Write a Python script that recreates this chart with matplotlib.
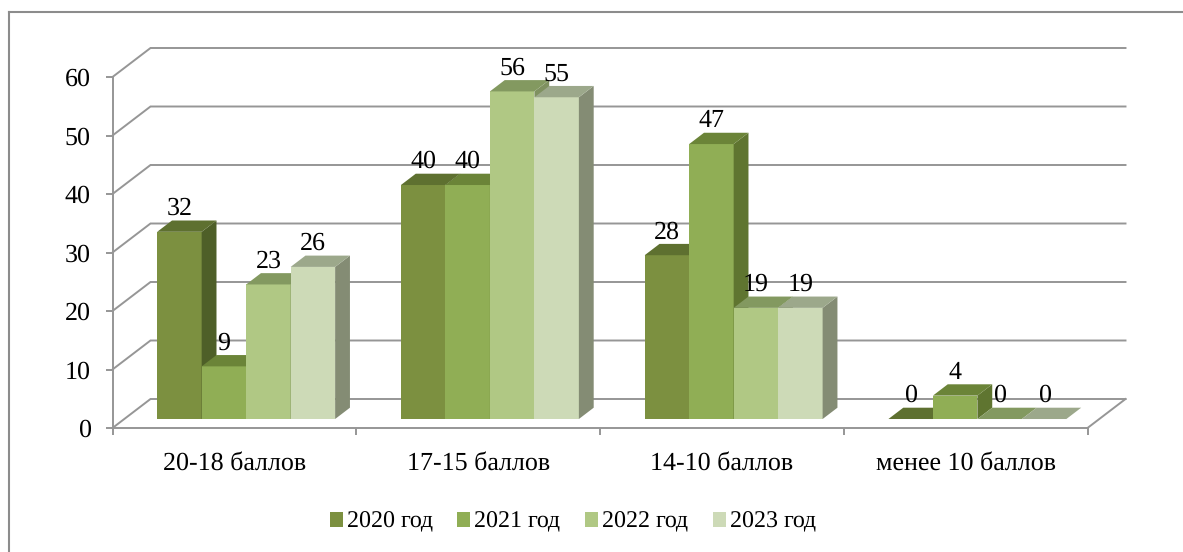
#!/usr/bin/env python3
"""Pseudo-3D clustered column chart: scores by year."""

import matplotlib

matplotlib.use("Agg")
import matplotlib.pyplot as plt
from matplotlib.lines import Line2D
from matplotlib.patches import Patch

CATEGORIES = ["20-18 баллов", "17-15 баллов", "14-10 баллов", "менее 10 баллов"]
YEARS = ["2020 год", "2021 год", "2022 год", "2023 год"]
VALUES_2020 = [32, 40, 28, 0]
VALUES_2021 = [9, 40, 47, 4]
VALUES_2022 = [23, 56, 19, 0]
VALUES_2023 = [26, 55, 19, 0]
Y_TICKS = [0, 10, 20, 30, 40, 50, 60]

FRONT = ["#7c9040", "#90ae55", "#b0c884", "#cddab7"]
TOP = ["#5e7030", "#6b8438", "#839960", "#9ca88b"]
SIDE = ["#4e5f28", "#5f7530", "#7f9160", "#848c74"]
GRID = "#969696"
FRAME = "#8c8c8c"
TEXT = "#000000"

W, H = 1183, 552
AX_LEFT, AX_RIGHT, AX_TOP, AX_BOTTOM = 112.5, 1087.5, 77, 428

# full wall depth expressed in data units (38 px right, 29 px up)
WALL_DX = 38 / (AX_RIGHT - AX_LEFT) * 4
WALL_DY = 29 / (AX_BOTTOM - AX_TOP) * 60
DEPTH_FRONT = 0.31
DEPTH_BACK = 0.70
GAP = 0.135
BAR_W = 0.1825


def project(x, y, depth):
    return x + depth * WALL_DX, y + depth * WALL_DY


def draw_poly(ax, points, color, zorder):
    xs, ys = zip(*points)
    ax.fill(xs, ys, color=color, linewidth=0, zorder=zorder, clip_on=False)


def draw_bar(ax, x, value, idx, zorder):
    x1 = x + BAR_W
    f = DEPTH_FRONT
    b = DEPTH_BACK
    if value > 0:
        draw_poly(ax, [project(x, 0, f), project(x1, 0, f), project(x1, value, f), project(x, value, f)], FRONT[idx], zorder)
        draw_poly(ax, [project(x1, 0, f), project(x1, 0, b), project(x1, value, b), project(x1, value, f)], SIDE[idx], zorder)
    draw_poly(ax, [project(x, value, f), project(x1, value, f), project(x1, value, b), project(x, value, b)], TOP[idx], zorder)
    lx, ly = project(x + BAR_W / 2, value, f)
    ax.text(lx, ly + 3.95, str(value), ha="center", va="center", fontsize=19, color=TEXT, zorder=50)


def main():
    plt.rcParams["font.family"] = ["Liberation Serif", "DejaVu Serif"]
    plt.rcParams["text.hinting"] = "none"
    plt.rcParams["text.hinting_factor"] = 1
    fig = plt.figure(figsize=(W / 100, H / 100), dpi=100, facecolor="white")
    # only the top and left edges of the outer frame are inside the picture
    fig.add_artist(Line2D([8.5 / W, 8.5 / W], [0, 1 - 12 / H], transform=fig.transFigure, color=FRAME, linewidth=1.5))
    fig.add_artist(Line2D([8.5 / W, 1], [1 - 12 / H, 1 - 12 / H], transform=fig.transFigure, color=FRAME, linewidth=1.5))
    ax = fig.add_axes(
        [
            AX_LEFT / W,
            1 - AX_BOTTOM / H,
            (AX_RIGHT - AX_LEFT) / W,
            (AX_BOTTOM - AX_TOP) / H,
        ]
    )
    ax.patch.set_alpha(0)
    ax.set_xlim(0, 4)
    ax.set_ylim(0, 60)
    for name in ("top", "right"):
        ax.spines[name].set_visible(False)
    for name in ("left", "bottom"):
        ax.spines[name].set_color(GRID)
        ax.spines[name].set_linewidth(1.4)
    ax.set_yticks(Y_TICKS)
    ax.set_xticks(range(5))
    ax.set_xticklabels([])
    ax.set_xticks([i + 0.5 for i in range(4)], CATEGORIES, minor=True)
    ax.tick_params(axis="both", which="major", color=GRID, width=1.4, length=5, labelsize=19, labelcolor=TEXT)
    ax.tick_params(axis="y", pad=10.5)
    ax.tick_params(axis="x", which="minor", length=0, labelsize=19, pad=17, labelcolor=TEXT)

    # walls
    for tick in Y_TICKS:
        x0, y0 = project(0, tick, 1)
        x1, _ = project(4, tick, 1)
        ax.plot([0, x0, x1], [tick, y0, y0], color=GRID, linewidth=1.4, zorder=1, clip_on=False, solid_joinstyle="miter")
    x0, y0 = project(4, 0, 1)
    ax.plot([4, x0], [0, y0], color=GRID, linewidth=1.4, zorder=1, clip_on=False)

    series = [VALUES_2020, VALUES_2021, VALUES_2022, VALUES_2023]
    for cat in range(len(CATEGORIES)):
        for idx, values in enumerate(series):
            draw_bar(ax, cat + GAP + idx * BAR_W, values[cat], idx, 5 + cat + idx * 0.1)

    handles = [Patch(facecolor=c, edgecolor="none", label=y) for c, y in zip(FRONT, YEARS)]
    fig.legend(
        handles=handles,
        ncol=4,
        frameon=False,
        fontsize=17,
        loc="center",
        bbox_to_anchor=(572.7 / W, 1 - 522 / H),
        handlelength=0.55,
        handleheight=0.55,
        handletextpad=0.17,
        columnspacing=1.04,
        borderpad=0,
    )
    fig.savefig("out.png", dpi=100)


if __name__ == "__main__":
    main()
